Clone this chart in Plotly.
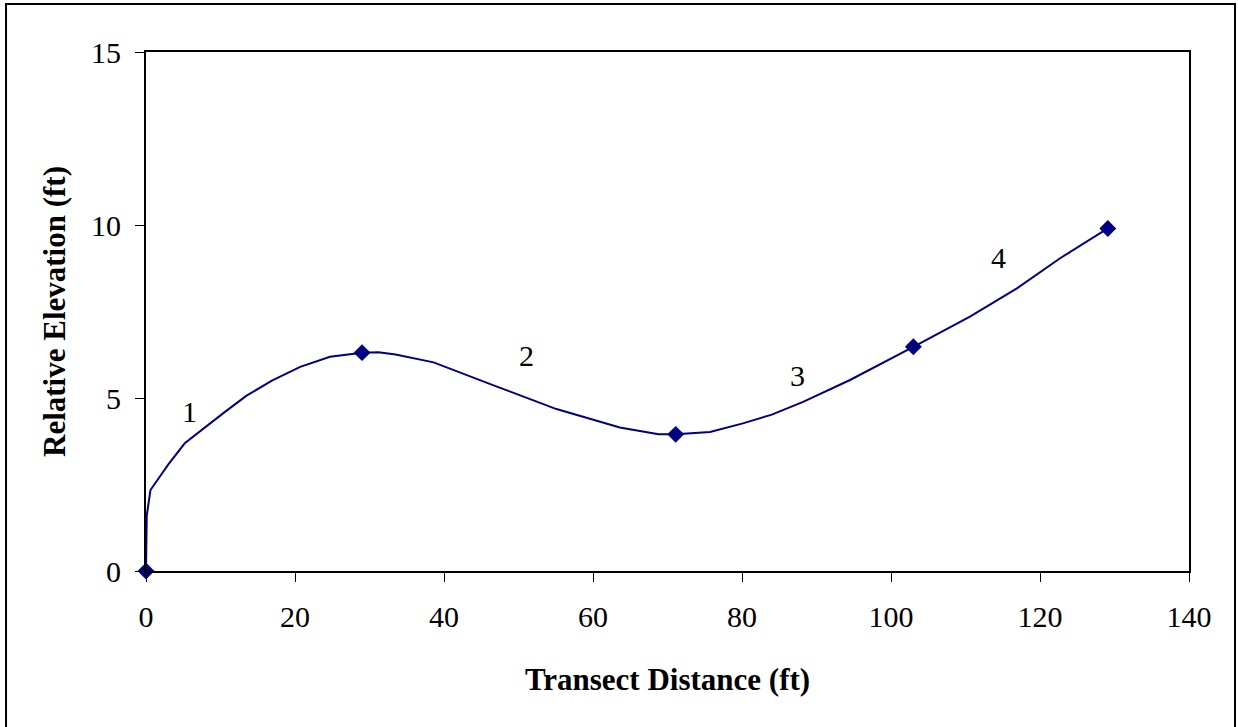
import plotly.graph_objects as go

# smoothed profile line, vertices
profile_x = [0, 0.1, 0.6, 3.0, 5.2, 8.1, 10.6, 13.5, 16.9, 20.7, 24.7, 29.0, 31.2, 33.5,
             38.6, 47.1, 55.1, 63.6, 68.8, 71.1, 75.7, 80.0, 84.0, 88.2, 94.5, 103.0,
             110.6, 116.9, 122.7, 129.1]
profile_y = [0, 1.6, 2.34, 3.08, 3.69, 4.19, 4.6, 5.07, 5.5, 5.9, 6.19, 6.31, 6.32, 6.26,
             6.03, 5.33, 4.68, 4.15, 3.95, 3.95, 4.02, 4.26, 4.52, 4.89, 5.52, 6.48,
             7.35, 8.17, 9.04, 9.9]

# surveyed points (diamonds)
point_x = [0, 29.0, 71.1, 103.0, 129.1]
point_y = [0, 6.31, 3.95, 6.48, 9.9]

# segment labels
label_text = ["1", "2", "3", "4"]
label_x = [5.9, 51.1, 87.5, 114.4]
label_y = [4.62, 6.24, 5.66, 9.05]

navy = "#000080"
serif = "Liberation Serif, Times New Roman, serif"

fig = go.Figure()
fig.add_trace(go.Scatter(x=profile_x, y=profile_y, mode="lines",
                         line=dict(color=navy, width=2), cliponaxis=False, hoverinfo="skip"))
fig.add_trace(go.Scatter(x=point_x, y=point_y, mode="markers",
                         marker=dict(symbol="diamond", size=13, color=navy), cliponaxis=False))

for t, x, y in zip(label_text, label_x, label_y):
    fig.add_annotation(x=x, y=y, text=t, showarrow=False,
                       font=dict(family=serif, size=30, color="black"))

# outer frame around the whole chart
fig.add_shape(type="rect", xref="paper", yref="paper",
              x0=-0.1342, x1=1.0441, y0=-0.31, y1=1.0925,
              line=dict(color="black", width=2))

fig.update_xaxes(range=[0, 140], dtick=20, ticks="outside", ticklen=9, tickwidth=1,
                 tickcolor="black", showline=True, linecolor="black", linewidth=2,
                 mirror=True, showgrid=False, zeroline=False, ticklabelstandoff=9,
                 tickfont=dict(family=serif, size=30, color="black"),
                 title=dict(text="<b>Transect Distance (ft)</b>", standoff=36,
                            font=dict(family=serif, size=31, color="black")))
fig.update_yaxes(range=[0, 15], dtick=5, ticks="outside", ticklen=9, tickwidth=1,
                 tickcolor="black", showline=True, linecolor="black", linewidth=2,
                 mirror=True, showgrid=False, zeroline=False, ticklabelstandoff=8,
                 tickfont=dict(family=serif, size=30, color="black"),
                 title=dict(text="<b>Relative Elevation (ft)</b>", standoff=16,
                            font=dict(family=serif, size=31, color="black")))

fig.update_layout(width=1238, height=727, showlegend=False,
                  plot_bgcolor="white", paper_bgcolor="white",
                  margin=dict(l=146, r=49, t=52, b=156, autoexpand=False))

fig.write_html("out.html", config={"displayModeBar": False},
               post_script="document.body.style.margin='0';")
